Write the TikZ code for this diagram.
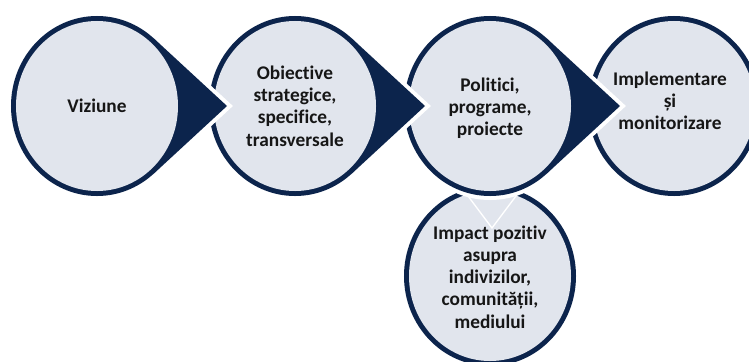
\documentclass[tikz,border=0pt]{standalone}
\usepackage{fontspec}
\setmainfont{Carlito}[Ligatures=CommonOff]
\usetikzlibrary{calc}

\definecolor{navy}{RGB}{12,36,76}
\definecolor{pale}{RGB}{225,229,237}
\definecolor{ink}{RGB}{22,22,22}

% teardrop: circle with a tip to the right
\newcommand{\stagedrop}[1]{%
	\draw[halo] (#1) ellipse [x radius=2.58cm, y radius=2.7cm];
	\draw[halo] ($(#1)+(3.9cm,0)$) -- ($(#1)+(1.707cm,2.025cm)$) -- ($(#1)+(1.707cm,-2.025cm)$) -- cycle;
	\fill[navy] (#1) ellipse [x radius=2.58cm, y radius=2.7cm];
	\fill[navy] ($(#1)+(3.9cm,0)$) -- ($(#1)+(1.707cm,2.025cm)$) -- ($(#1)+(1.707cm,-2.025cm)$) -- cycle;
	\fill[pale] (#1) ellipse [x radius=2.43cm, y radius=2.55cm];
}

\begin{document}
\begin{tikzpicture}[x=0.03cm, y=0.03cm,
	halo/.style={draw=white, line width=0.24cm, line join=miter},
	stagetext/.style={align=center, text=ink, font=\fontsize{16.5}{19}\selectfont\bfseries}]
	\clip (0,0) rectangle (749,-362);
	\fill[white] (0,0) rectangle (749,-362);

	\coordinate (c1) at (97,-106);
	\coordinate (c2) at (295,-106);
	\coordinate (c3) at (490,-106);
	\coordinate (c4) at (674,-106);
	\coordinate (c5) at (490,-276);

	\fill[navy] (c5) ellipse [x radius=2.58cm, y radius=2.7cm];
	\fill[pale] (c5) ellipse [x radius=2.43cm, y radius=2.55cm];
	\filldraw[fill=pale, draw=white, line width=0.04cm] (462,-188) -- (522,-188) -- (492,-228) -- cycle;

	\fill[navy] (c4) ellipse [x radius=2.58cm, y radius=2.7cm];
	\fill[pale] (c4) ellipse [x radius=2.43cm, y radius=2.55cm];

	\stagedrop{c3}
	\stagedrop{c2}
	\stagedrop{c1}

	\node[stagetext] (viz) at (97,-106) {Viziune};
	\node[stagetext] (obj) at (295,-106) {Obiective\\strategice,\\specifice,\\transversale};
	\node[stagetext] (pol) at (490,-108) {Politici,\\programe,\\proiecte};
	\node[stagetext] (imp) at (670,-101) {Implementare\\și\\monitorizare};
	\node[stagetext] (eff) at (490,-277) {Impact pozitiv\\asupra\\indivizilor,\\comunității,\\mediului};
\end{tikzpicture}
\end{document}
